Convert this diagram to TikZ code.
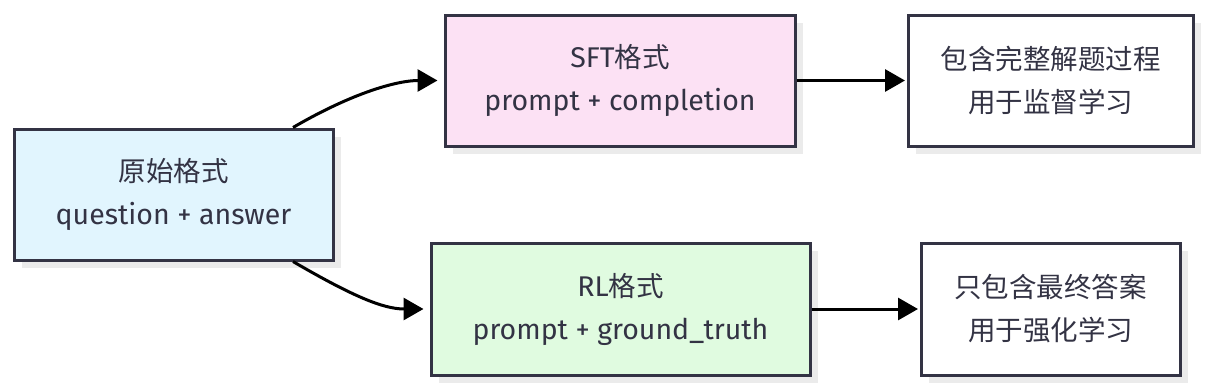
\documentclass[tikz,border=0pt]{standalone}
\usepackage{fontspec}
\setmainfont{Fira Sans}
\newfontfamily\cjkfam{Noto Sans CJK SC}
\newcommand{\zh}[1]{{\cjkfam\fontsize{27.5}{43}\selectfont #1}}
\usetikzlibrary{arrows.meta}
\definecolor{ink}{HTML}{333344}
\definecolor{fillA}{HTML}{E1F5FE}
\definecolor{fillB}{HTML}{FCE1F4}
\definecolor{fillC}{HTML}{E0FBE0}
\definecolor{shadowc}{HTML}{EBEBEB}
\tikzset{
  box/.style={draw=ink, line width=3pt, rectangle, align=center, text=ink,
    font=\fontsize{28.5}{43}\selectfont, inner sep=0pt},
  conn/.style={line width=3pt, -{Triangle[length=20pt,width=22pt]}, black},
}
\begin{document}
\begin{tikzpicture}[x=1pt,y=-1pt]
\useasboundingbox (0,0) rectangle (1209,391);
% shadows
\fill[shadowc] (22,137) rectangle (341,268);
\fill[shadowc] (453,23) rectangle (803,154);
\fill[shadowc] (916,23) rectangle (1201,154);
\fill[shadowc] (439,251) rectangle (818,383);
\fill[shadowc] (929,251) rectangle (1188,383);
% boxes
\node[box, fill=fillA, minimum width=319pt, minimum height=131pt] (A) at (173.5,194.5) {\zh{原始格式}\\question + answer};
\node[box, fill=fillB, minimum width=350pt, minimum height=131pt] (B) at (620,80.5) {SFT\zh{格式}\\prompt + completion};
\node[box, fill=white, minimum width=285pt, minimum height=131pt] (C) at (1050.5,80.5) {\zh{包含完整解题过程}\\\zh{用于监督学习}};
\node[box, fill=fillC, minimum width=379pt, minimum height=132pt] (D) at (620.5,309) {RL\zh{格式}\\prompt + ground\_truth};
\node[box, fill=white, minimum width=259pt, minimum height=132pt] (E) at (1050.5,309) {\zh{只包含最终答案}\\\zh{用于强化学习}};
% connectors
\draw[conn] ([xshift=119.5pt]A.north) .. controls +(60,-35) and +(-40,0) .. ([xshift=-6pt]B.west);
\draw[conn] ([xshift=119.5pt]A.south) .. controls +(60,35) and +(-40,0) .. ([xshift=-6pt]D.west);
\draw[conn] (B.east) -- ([xshift=-1.5pt]C.west);
\draw[conn] (D.east) -- ([xshift=-1.5pt]E.west);
\end{tikzpicture}
\end{document}
